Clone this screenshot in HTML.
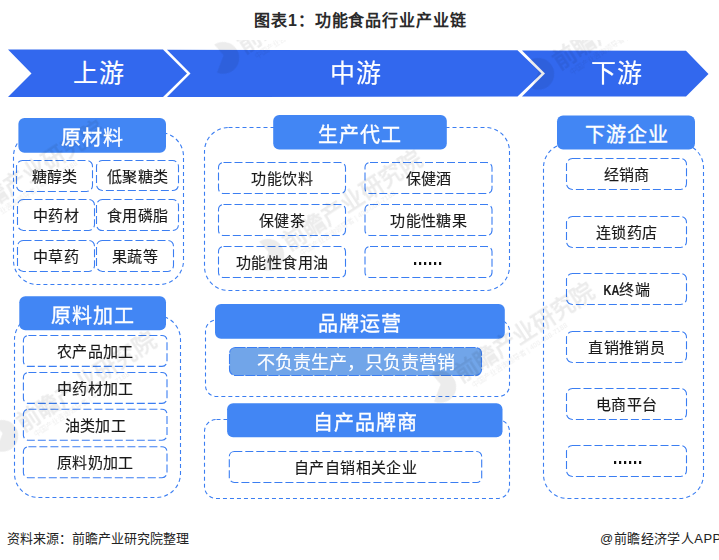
<!DOCTYPE html>
<html lang="zh-CN"><head><meta charset="utf-8">
<style>
html,body{margin:0;padding:0;background:#fff;}
body{width:719px;height:560px;position:relative;overflow:hidden;font-family:"Liberation Sans",sans-serif;}
svg{position:absolute;left:0;top:0;}
.t{position:absolute;-webkit-text-stroke:0.15px currentColor;display:flex;align-items:center;justify-content:center;white-space:nowrap;line-height:1;}
.f{position:absolute;font-size:13px;color:#222;white-space:nowrap;line-height:18px;}
</style></head><body>
<svg width="719" height="560" viewBox="0 0 719 560">
<polygon points="8,49.5 163,49.5 187,73.5 163,97 8,97 31.5,73.5" fill="#3268EE"/>
<polygon points="167,49.8 517.5,50.2 541.5,73.5 517.5,96.6 167,97 190.5,73.5" fill="#3268EE"/>
<polygon points="522,50.5 686,50.8 708.5,74 686,96.6 522,96.6 545,73.5" fill="#3268EE"/>
<rect x="13.5" y="132.5" width="170" height="152" rx="24" fill="none" stroke="#3B7EF2" stroke-width="1.1" stroke-dasharray="4 3"/>
<rect x="18.4" y="118" width="147.6" height="34.7" rx="6" fill="#4286F4"/>
<rect x="16.5" y="160.5" width="76" height="31" rx="6" fill="none" stroke="#3B7EF2" stroke-width="1.1" stroke-dasharray="8 3"/>
<rect x="96.5" y="160.5" width="82" height="30" rx="6" fill="none" stroke="#3B7EF2" stroke-width="1.1" stroke-dasharray="8 3"/>
<rect x="17.5" y="199.5" width="77" height="31" rx="6" fill="none" stroke="#3B7EF2" stroke-width="1.1" stroke-dasharray="8 3"/>
<rect x="96.5" y="199.5" width="82" height="31" rx="6" fill="none" stroke="#3B7EF2" stroke-width="1.1" stroke-dasharray="8 3"/>
<rect x="17.5" y="240.5" width="77" height="31" rx="6" fill="none" stroke="#3B7EF2" stroke-width="1.1" stroke-dasharray="8 3"/>
<rect x="96.5" y="240.5" width="77" height="31" rx="6" fill="none" stroke="#3B7EF2" stroke-width="1.1" stroke-dasharray="8 3"/>
<rect x="14.5" y="315.5" width="166" height="182" rx="24" fill="none" stroke="#3B7EF2" stroke-width="1.1" stroke-dasharray="4 3"/>
<rect x="19.3" y="296.3" width="146.7" height="33.9" rx="6" fill="#4286F4"/>
<rect x="23.4" y="335.5" width="143.6" height="30.9" rx="5" fill="none" stroke="#3B7EF2" stroke-width="1.1" stroke-dasharray="8 3"/>
<rect x="23.4" y="372.5" width="143.6" height="30.9" rx="5" fill="none" stroke="#3B7EF2" stroke-width="1.1" stroke-dasharray="8 3"/>
<rect x="23.4" y="409.3" width="143.6" height="30.9" rx="5" fill="none" stroke="#3B7EF2" stroke-width="1.1" stroke-dasharray="8 3"/>
<rect x="23.4" y="446.8" width="143.6" height="30.9" rx="5" fill="none" stroke="#3B7EF2" stroke-width="1.1" stroke-dasharray="8 3"/>
<rect x="204.5" y="127.5" width="305" height="163" rx="24" fill="none" stroke="#3B7EF2" stroke-width="1.1" stroke-dasharray="4 3"/>
<rect x="273.2" y="115" width="173.6" height="34.6" rx="6" fill="#4286F4"/>
<rect x="218.5" y="162.5" width="127" height="31" rx="5" fill="none" stroke="#3B7EF2" stroke-width="1.1" stroke-dasharray="8 3"/>
<rect x="365" y="162.5" width="127" height="31" rx="5" fill="none" stroke="#3B7EF2" stroke-width="1.1" stroke-dasharray="8 3"/>
<rect x="218.5" y="204.5" width="127" height="31" rx="5" fill="none" stroke="#3B7EF2" stroke-width="1.1" stroke-dasharray="8 3"/>
<rect x="365" y="204.5" width="127" height="31" rx="5" fill="none" stroke="#3B7EF2" stroke-width="1.1" stroke-dasharray="8 3"/>
<rect x="218.5" y="246.5" width="127" height="31" rx="5" fill="none" stroke="#3B7EF2" stroke-width="1.1" stroke-dasharray="8 3"/>
<rect x="365" y="246.5" width="127" height="31" rx="5" fill="none" stroke="#3B7EF2" stroke-width="1.1" stroke-dasharray="8 3"/>
<rect x="205.5" y="320" width="304" height="76.5" rx="11" fill="none" stroke="#3B7EF2" stroke-width="1.1" stroke-dasharray="4 3"/>
<rect x="215" y="303.9" width="289.8" height="34.9" rx="6" fill="#4286F4"/>
<rect x="229.5" y="347.5" width="252" height="28" rx="6" fill="#71A5E9" stroke="#3B7EF2" stroke-width="1.1" stroke-dasharray="10 1.5"/>
<rect x="204.5" y="419.5" width="305" height="79" rx="12" fill="none" stroke="#3B7EF2" stroke-width="1.1" stroke-dasharray="4 3"/>
<rect x="227.1" y="403.2" width="275.4" height="34.1" rx="6" fill="#4286F4"/>
<rect x="229.3" y="451.5" width="252.4" height="31" rx="5" fill="none" stroke="#3B7EF2" stroke-width="1.1" stroke-dasharray="8 3"/>
<rect x="543.5" y="143.5" width="160" height="355" rx="24" fill="none" stroke="#3B7EF2" stroke-width="1.1" stroke-dasharray="4 3"/>
<rect x="557" y="115.4" width="138" height="34.2" rx="6" fill="#4286F4"/>
<rect x="566.5" y="158.5" width="120" height="31" rx="6" fill="none" stroke="#3B7EF2" stroke-width="1.1" stroke-dasharray="8 3"/>
<rect x="566.5" y="216.5" width="120" height="31" rx="6" fill="none" stroke="#3B7EF2" stroke-width="1.1" stroke-dasharray="8 3"/>
<rect x="566.5" y="273.5" width="120" height="31" rx="6" fill="none" stroke="#3B7EF2" stroke-width="1.1" stroke-dasharray="8 3"/>
<rect x="566.5" y="331.5" width="120" height="31" rx="6" fill="none" stroke="#3B7EF2" stroke-width="1.1" stroke-dasharray="8 3"/>
<rect x="566.5" y="388.5" width="120" height="31" rx="6" fill="none" stroke="#3B7EF2" stroke-width="1.1" stroke-dasharray="8 3"/>
<rect x="566.5" y="445.5" width="120" height="31" rx="6" fill="none" stroke="#3B7EF2" stroke-width="1.1" stroke-dasharray="8 3"/>
<rect x="414" y="262" width="2.2" height="3" fill="#111"/>
<rect x="419" y="262" width="2.2" height="3" fill="#111"/>
<rect x="424" y="262" width="2.2" height="3" fill="#111"/>
<rect x="429" y="262" width="2.2" height="3" fill="#111"/>
<rect x="434" y="262" width="2.2" height="3" fill="#111"/>
<rect x="439" y="262" width="2.2" height="3" fill="#111"/>
<rect x="614" y="461" width="2.2" height="3" fill="#111"/>
<rect x="619" y="461" width="2.2" height="3" fill="#111"/>
<rect x="624" y="461" width="2.2" height="3" fill="#111"/>
<rect x="629" y="461" width="2.2" height="3" fill="#111"/>
<rect x="634" y="461" width="2.2" height="3" fill="#111"/>
<rect x="639" y="461" width="2.2" height="3" fill="#111"/>
<clipPath id="wc"><rect x="0" y="40" width="719" height="475"/></clipPath>
<g clip-path="url(#wc)" opacity="0.075" fill="#000" font-family="Liberation Sans, sans-serif">
<g transform="translate(223,58) rotate(-33)">
<path d="M0,-16 A16,16 0 1,1 -13,9 L2,-2 Z"/>
<text x="20" y="8" font-size="23" font-weight="bold">前瞻产业研究院</text>
<text x="28" y="19" font-size="7">中国产业咨询领导者 | 400-068-7188</text>
</g>
<g transform="translate(268,255) rotate(-33)">
<path d="M0,-16 A16,16 0 1,1 -13,9 L2,-2 Z"/>
<text x="20" y="8" font-size="23" font-weight="bold">前瞻产业研究院</text>
<text x="28" y="19" font-size="7">中国产业咨询领导者 | 400-068-7188</text>
</g>
<g transform="translate(440,387) rotate(-33)">
<path d="M0,-16 A16,16 0 1,1 -13,9 L2,-2 Z"/>
<text x="20" y="8" font-size="23" font-weight="bold">前瞻产业研究院</text>
<text x="28" y="19" font-size="7">中国产业咨询领导者 | 400-068-7188</text>
</g>
<g transform="translate(538,74) rotate(-33)">
<path d="M0,-16 A16,16 0 1,1 -13,9 L2,-2 Z"/>
<text x="20" y="8" font-size="23" font-weight="bold">前瞻产业研究院</text>
<text x="28" y="19" font-size="7">中国产业咨询领导者 | 400-068-7188</text>
</g>
<g transform="translate(2,436) rotate(-33)">
<path d="M0,-16 A16,16 0 1,1 -13,9 L2,-2 Z"/>
<text x="20" y="8" font-size="23" font-weight="bold">前瞻产业研究院</text>
<text x="28" y="19" font-size="7">中国产业咨询领导者 | 400-068-7188</text>
</g>
<g transform="translate(-50,225) rotate(-33)">
<path d="M0,-16 A16,16 0 1,1 -13,9 L2,-2 Z"/>
<text x="20" y="8" font-size="23" font-weight="bold">前瞻产业研究院</text>
<text x="28" y="19" font-size="7">中国产业咨询领导者 | 400-068-7188</text>
</g>
</g>
</svg>
<div class="t" style="left:33px;top:49.5px;width:131.5px;height:47px;font-size:25px;color:#fff;font-weight:normal;letter-spacing:1px">上游</div>
<div class="t" style="left:192.5px;top:49.5px;width:327px;height:47px;font-size:25px;color:#fff;font-weight:normal;letter-spacing:1px">中游</div>
<div class="t" style="left:546.5px;top:49.5px;width:141px;height:47px;font-size:25px;color:#fff;font-weight:normal;letter-spacing:1px">下游</div>
<div class="t" style="left:18.4px;top:120.8px;width:147.6px;height:34.7px;font-size:20px;color:#fff;font-weight:normal;letter-spacing:1px;text-indent:1px;-webkit-text-stroke:0.35px #fff">原材料</div>
<div class="t" style="left:16.5px;top:161.1px;width:76px;height:31px;font-size:15px;color:#1A1A1A;font-weight:normal;letter-spacing:0.4px;text-indent:0.4px">糖醇类</div>
<div class="t" style="left:96.5px;top:161.1px;width:82px;height:30px;font-size:15px;color:#1A1A1A;font-weight:normal;letter-spacing:0.4px;text-indent:0.4px">低聚糖类</div>
<div class="t" style="left:17.5px;top:200.1px;width:77px;height:31px;font-size:15px;color:#1A1A1A;font-weight:normal;letter-spacing:0.4px;text-indent:0.4px">中药材</div>
<div class="t" style="left:96.5px;top:200.1px;width:82px;height:31px;font-size:15px;color:#1A1A1A;font-weight:normal;letter-spacing:0.4px;text-indent:0.4px">食用磷脂</div>
<div class="t" style="left:17.5px;top:241.1px;width:77px;height:31px;font-size:15px;color:#1A1A1A;font-weight:normal;letter-spacing:0.4px;text-indent:0.4px">中草药</div>
<div class="t" style="left:96.5px;top:241.1px;width:77px;height:31px;font-size:15px;color:#1A1A1A;font-weight:normal;letter-spacing:0.4px;text-indent:0.4px">果蔬等</div>
<div class="t" style="left:19.3px;top:299.1px;width:146.7px;height:33.9px;font-size:20px;color:#fff;font-weight:normal;letter-spacing:1px;text-indent:1px;-webkit-text-stroke:0.35px #fff">原料加工</div>
<div class="t" style="left:23.4px;top:336.1px;width:143.6px;height:30.9px;font-size:15px;color:#1A1A1A;font-weight:normal;letter-spacing:0.4px;text-indent:0.4px">农产品加工</div>
<div class="t" style="left:23.4px;top:373.1px;width:143.6px;height:30.9px;font-size:15px;color:#1A1A1A;font-weight:normal;letter-spacing:0.4px;text-indent:0.4px">中药材加工</div>
<div class="t" style="left:23.4px;top:409.9px;width:143.6px;height:30.9px;font-size:15px;color:#1A1A1A;font-weight:normal;letter-spacing:0.4px;text-indent:0.4px">油类加工</div>
<div class="t" style="left:23.4px;top:447.4px;width:143.6px;height:30.9px;font-size:15px;color:#1A1A1A;font-weight:normal;letter-spacing:0.4px;text-indent:0.4px">原料奶加工</div>
<div class="t" style="left:273.2px;top:117.8px;width:173.6px;height:34.6px;font-size:20px;color:#fff;font-weight:normal;letter-spacing:1px;text-indent:1px;-webkit-text-stroke:0.35px #fff">生产代工</div>
<div class="t" style="left:218.5px;top:163.1px;width:127px;height:31px;font-size:15px;color:#1A1A1A;font-weight:normal;letter-spacing:0.4px;text-indent:0.4px">功能饮料</div>
<div class="t" style="left:365px;top:163.1px;width:127px;height:31px;font-size:15px;color:#1A1A1A;font-weight:normal;letter-spacing:0.4px;text-indent:0.4px">保健酒</div>
<div class="t" style="left:218.5px;top:205.1px;width:127px;height:31px;font-size:15px;color:#1A1A1A;font-weight:normal;letter-spacing:0.4px;text-indent:0.4px">保健茶</div>
<div class="t" style="left:365px;top:205.1px;width:127px;height:31px;font-size:15px;color:#1A1A1A;font-weight:normal;letter-spacing:0.4px;text-indent:0.4px">功能性糖果</div>
<div class="t" style="left:218.5px;top:247.1px;width:127px;height:31px;font-size:15px;color:#1A1A1A;font-weight:normal;letter-spacing:0.4px;text-indent:0.4px">功能性食用油</div>
<div class="t" style="left:365px;top:247.1px;width:127px;height:31px;font-size:15px;color:#1A1A1A;font-weight:normal;letter-spacing:0.4px;text-indent:0.4px"></div>
<div class="t" style="left:215px;top:306.7px;width:289.8px;height:34.9px;font-size:20px;color:#fff;font-weight:normal;letter-spacing:1px;text-indent:1px;-webkit-text-stroke:0.35px #fff">品牌运营</div>
<div class="t" style="left:229.3px;top:349.1px;width:252.5px;height:28.1px;font-size:18px;color:#fff;font-weight:normal;">不负责生产，只负责营销</div>
<div class="t" style="left:227.1px;top:406px;width:275.4px;height:34.1px;font-size:20px;color:#fff;font-weight:normal;letter-spacing:1px;text-indent:1px;-webkit-text-stroke:0.35px #fff">自产品牌商</div>
<div class="t" style="left:229.3px;top:452.1px;width:252.4px;height:31px;font-size:15px;color:#1A1A1A;font-weight:normal;letter-spacing:0.4px;text-indent:0.4px">自产自销相关企业</div>
<div class="t" style="left:557px;top:118.2px;width:138px;height:34.2px;font-size:20px;color:#fff;font-weight:normal;letter-spacing:1px;text-indent:1px;-webkit-text-stroke:0.35px #fff">下游企业</div>
<div class="t" style="left:566.5px;top:159.1px;width:120px;height:31px;font-size:15px;color:#1A1A1A;font-weight:normal;letter-spacing:0.4px;text-indent:0.4px">经销商</div>
<div class="t" style="left:566.5px;top:217.1px;width:120px;height:31px;font-size:15px;color:#1A1A1A;font-weight:normal;letter-spacing:0.4px;text-indent:0.4px">连锁药店</div>
<div class="t" style="left:566.5px;top:274.1px;width:120px;height:31px;font-size:15px;color:#1A1A1A;font-weight:normal;letter-spacing:0.4px;text-indent:0.4px"><span style="display:inline-block;font-weight:bold;font-size:14px;letter-spacing:0;transform:scaleX(0.78);margin:0 -2.4px 0 -2px">KA</span>终端</div>
<div class="t" style="left:566.5px;top:332.1px;width:120px;height:31px;font-size:15px;color:#1A1A1A;font-weight:normal;letter-spacing:0.4px;text-indent:0.4px">直销推销员</div>
<div class="t" style="left:566.5px;top:389.1px;width:120px;height:31px;font-size:15px;color:#1A1A1A;font-weight:normal;letter-spacing:0.4px;text-indent:0.4px">电商平台</div>
<div class="t" style="left:566.5px;top:446.1px;width:120px;height:31px;font-size:15px;color:#1A1A1A;font-weight:normal;letter-spacing:0.4px;text-indent:0.4px"></div>
<div class="t" style="left:200px;top:8.7px;width:320px;height:24px;font-size:16px;color:#2a2a2a;font-weight:bold;letter-spacing:0.9px;text-indent:0.9px;-webkit-text-stroke:0">图表1：功能食品行业产业链</div>
<div class="f" style="left:7px;top:530px;">资料来源：前瞻产业研究院整理</div>
<div class="f" style="left:600px;top:530px;letter-spacing:0.45px">@前瞻经济学人APP</div>
</body></html>
